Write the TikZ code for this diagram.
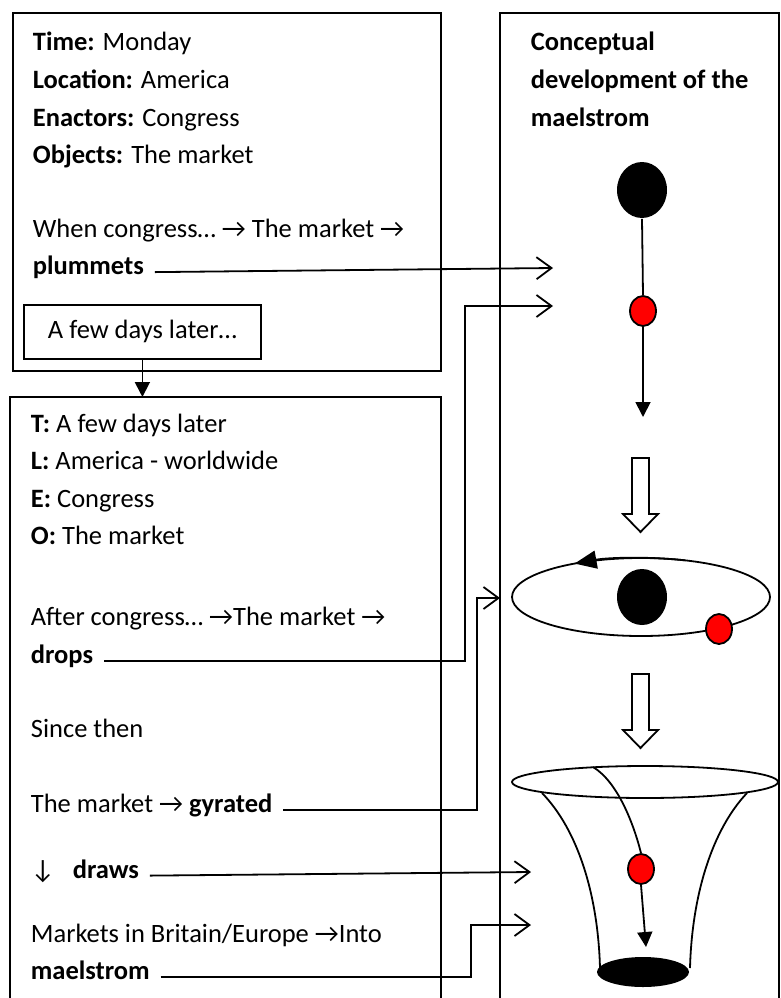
\documentclass[tikz,border=0pt]{standalone}
\usepackage{fontspec}
\setmainfont{Carlito}
\usetikzlibrary{arrows.meta,shapes.geometric}
\newcommand{\ra}{→}
\newcommand{\da}{↓}

\begin{document}
\begin{tikzpicture}[x=1pt,y=-1pt,line width=1.8pt,
  txt/.style={anchor=base west,inner sep=0pt,font=\fontsize{26.5}{32}\selectfont},
  hdr/.style={txt,font=\fontsize{26.5}{32}\selectfont\bfseries},
  frame/.style={draw,line width=1.8pt},
  link/.style={draw,line width=1.8pt,-{Straight Barb[length=15pt,width=22pt,line width=1.8pt]}},
  flow/.style={draw,line width=1.8pt,-{Triangle[length=15pt,width=15pt]}},
  core/.style={ellipse,fill=black,inner sep=0pt,minimum width=50pt,minimum height=56pt},
  bead/.style={ellipse,draw=black,fill=red,line width=1.8pt,inner sep=0pt,minimum width=26pt,minimum height=30pt},
  blockarrow/.style={draw,fill=white,line width=1.8pt,line join=miter}]
\useasboundingbox (0,0) rectangle (780,998);
\clip (0,0) rectangle (780,998);

% frames
\draw[frame] (13,13) rectangle (441,371);
\node[frame,anchor=north west,minimum width=237pt,minimum height=54pt,inner sep=0pt,font=\fontsize{26.5}{32}\selectfont] (later) at (23,304) {A few days later…};
\draw[frame] (10,397) rectangle (441,1010);
\draw[frame] (500,13) rectangle (779,1010);
\coordinate (lowtop) at (later.south |- 0,397);
\draw[flow] (later.south) -- (lowtop);

% first box
\node[txt] (time) at (32,51) {\textbf{Time:} Monday};
\node[txt] (loc) at (32,88.5) {\textbf{Location:} America};
\node[txt] (enac) at (32,126) {\textbf{Enactors:} Congress};
\node[txt] (obj) at (32,163.5) {\textbf{Objects:} The market};
\node[txt] (when) at (32,237) {When congress… \ra{} The market \ra};
\node[txt] (plum) at (32,274.5) {\textbf{plummets}};

% second box
\node[txt] (T) at (30,432) {\textbf{T:} A few days later};
\node[txt] (L) at (30,469.5) {\textbf{L:} America - worldwide};
\node[txt] (E) at (30,507) {\textbf{E:} Congress};
\node[txt] (O) at (30,544.5) {\textbf{O:} The market};
\node[txt] (after) at (30,625) {After congress… \ra The market \ra};
\node[txt] (drops) at (30,663) {\textbf{drops}};
\node[txt] (since) at (30,737) {Since then};
\node[txt] (gyr) at (30,812) {The market \ra{} \textbf{gyrated}};
\node[txt] (draws) at (30,878) {\da\hspace{18pt}\textbf{draws}};
\node[txt] (mkts) at (30,942) {Markets in Britain/Europe \ra Into};
\node[txt] (mael) at (30,979) {\textbf{maelstrom}};

% right column heading
\node[hdr] (h1) at (530,51) {Conceptual};
\node[hdr] (h2) at (530,88.5) {development of the};
\node[hdr] (h3) at (530,126) {maelstrom};

% stage 1: falling bead
\node[core] (c1) at (642,190) {};
\node[bead] (b1) at (643,311) {};
\coordinate (f1) at (643,417);
\draw (c1.south) -- (b1.north);
\draw[flow] (b1.south) -- (f1);

% hollow arrows between stages
\draw[blockarrow] (632,458) -- (649,458) -- (649,514) -- (658,514) -- (640.5,532) -- (623,514) -- (632,514) -- cycle;
\draw[blockarrow] (632,674) -- (649,674) -- (649,730) -- (658,730) -- (640.5,748) -- (623,730) -- (632,730) -- cycle;

% stage 2: orbit
\node[ellipse,draw,line width=1.8pt,minimum width=258pt,minimum height=78pt,inner sep=0pt] (orbit) at (641,597) {};
\draw[-{Triangle[length=22pt,width=18pt]}] (orbit.center) ++(70:129pt and 39pt) arc[start angle=70,end angle=121,x radius=129pt,y radius=39pt];
\node[core] (c2) at (642,597) {};
\node[bead] (b2) at (719,629) {};

% stage 3: funnel
\node[ellipse,draw,line width=1.8pt,minimum width=266pt,minimum height=32pt,inner sep=0pt] (rim) at (645,782) {};
\draw (542,793) .. controls (578,830) and (598,895) .. (600,968);
\draw (747,793) .. controls (712,830) and (692,895) .. (690,968);
\node[ellipse,fill=black,inner sep=0pt,minimum width=92pt,minimum height=30pt] (hole) at (643,972) {};
\node[bead] (b3) at (641,869) {};
\coordinate (entry) at (593,767);
\coordinate (f3) at (646,947);
\draw (entry) .. controls (618,782) and (634,825) .. (b3.north);
\draw[flow] (b3.south) -- (f3);

% connectors from the text to the stages
\coordinate (a1) at (553,268);
\coordinate (a2) at (553,306);
\coordinate (a3) at (500,598);
\coordinate (a4) at (531,872);
\coordinate (a5) at (531,925);
\draw[link] ([xshift=10pt]plum.mid east) -- (a1);
\draw[link] ([xshift=10pt]drops.mid east) -| (465,306) -- (a2);
\draw[link] ([xshift=10pt]gyr.mid east) -| (477,598) -- (a3);
\draw[link] ([xshift=10pt]draws.mid east) -- (a4);
\draw[link] ([xshift=10pt]mael.mid east) -| (471,925) -- (a5);
\end{tikzpicture}
\end{document}
